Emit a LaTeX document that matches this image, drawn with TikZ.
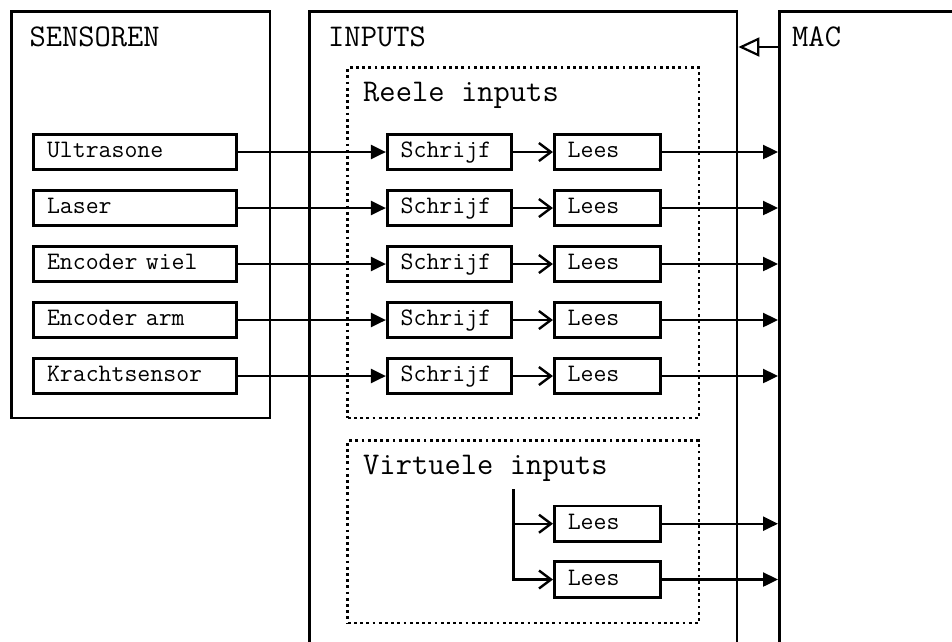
\documentclass[tikz,border=0pt]{standalone}
\usepackage{fontspec}
\usetikzlibrary{arrows.meta}
% fixed-width interword space for the typewriter labels
\newcommand\fixedspace{\spaceskip=0.525em\relax}
\newcommand\boxfont{\ttfamily\fontsize{25.1}{28}\selectfont\fixedspace}
\newcommand\titlefont{\ttfamily\fontsize{31.6}{36}\selectfont\fixedspace}
\tikzset{
  frame/.style={draw, line width=2.8pt, inner sep=0pt, anchor=north west},
  group/.style={draw, line width=2.8pt, dash pattern=on 2.8pt off 3.4pt, inner sep=0pt, anchor=north west},
  box/.style={draw, line width=2.6pt, minimum height=35.5pt, inner xsep=13.5pt, inner ysep=0pt,
    align=left, text height=16pt, text depth=5pt, font=\boxfont},
  sensor/.style={box, text width=176pt},
  writer/.style={box, text width=97pt},
  reader/.style={box, text width=79pt},
  title/.style={inner sep=0pt, anchor=base west, font=\titlefont},
  feed/.style={line width=2.4pt, -{Triangle[length=15pt,width=14pt]}},
  pass/.style={line width=2.4pt, -{Straight Barb[length=12pt,width=18pt,line width=2.4pt]}},
  ret/.style={line width=2.2pt, -{Triangle[open,length=21pt,width=19pt,fill=white,line width=2.2pt]}},
}
\begin{document}
\begin{tikzpicture}[x=1pt, y=-1pt]
  \useasboundingbox (0,0) rectangle (952,641);
  \clip (0,0) rectangle (952,641);

  % outer blocks
  \node[frame, minimum width=258.2pt, minimum height=406.2pt] (sensoren) at (10.4,10.4) {};
  \node[frame, minimum width=427.2pt, minimum height=680pt] (inputs) at (308.4,10.4) {};
  \node[frame, minimum width=220pt, minimum height=680pt] (mac) at (778,10.4) {};
  \node[title] (tsens) at (29.3,46.3) {SENSOREN};
  \node[title] (tinp) at (328,46.5) {INPUTS};
  \node[title] (tmac) at (792,46.5) {MAC};

  % dotted groups inside INPUTS
  \node[group, minimum width=351.2pt, minimum height=350.2pt] (reele) at (346.4,66.4) {};
  \node[group, minimum width=351.2pt, minimum height=182.2pt] (virt) at (346.4,439.4) {};
  \node[title] (treele) at (363,101.7) {Reele inputs};
  \node[title] (tvirt) at (363,474.3) {Virtuele inputs};

  % sensors with their write and read stages
  \foreach \i/\y/\name in {1/152/Ultrasone, 2/208/Laser, 3/264/Encoder wiel, 4/320/Encoder arm, 5/376/Krachtsensor} {
    \node[sensor] (s\i) at (135,\y) {\name};
    \node[writer] (w\i) at (449.2,\y) {Schrijf};
    \node[reader] (r\i) at (607.2,\y) {Lees};
    \draw[feed] (s\i.east) -- (w\i.west);
    \draw[pass] (w\i.east) -- (r\i.west);
    \draw[feed] (r\i.east) -- (r\i.east -| mac.west);
  }

  % virtual inputs
  \node[reader] (v1) at (607.3,523.7) {Lees};
  \node[reader] (v2) at (607.3,579.5) {Lees};
  \coordinate (vsrc) at (513.3,489);
  \draw[pass] (vsrc) |- (v2.west);
  \draw[pass] (vsrc |- v1.west) -- (v1.west);
  \draw[feed] (v1.east) -- (v1.east -| mac.west);
  \draw[feed] (v2.east) -- (v2.east -| mac.west);

  % return path from MAC
  \coordinate (retrow) at (0,47);
  \draw[ret] (mac.west |- retrow) -- (inputs.east |- retrow);
\end{tikzpicture}
\end{document}
